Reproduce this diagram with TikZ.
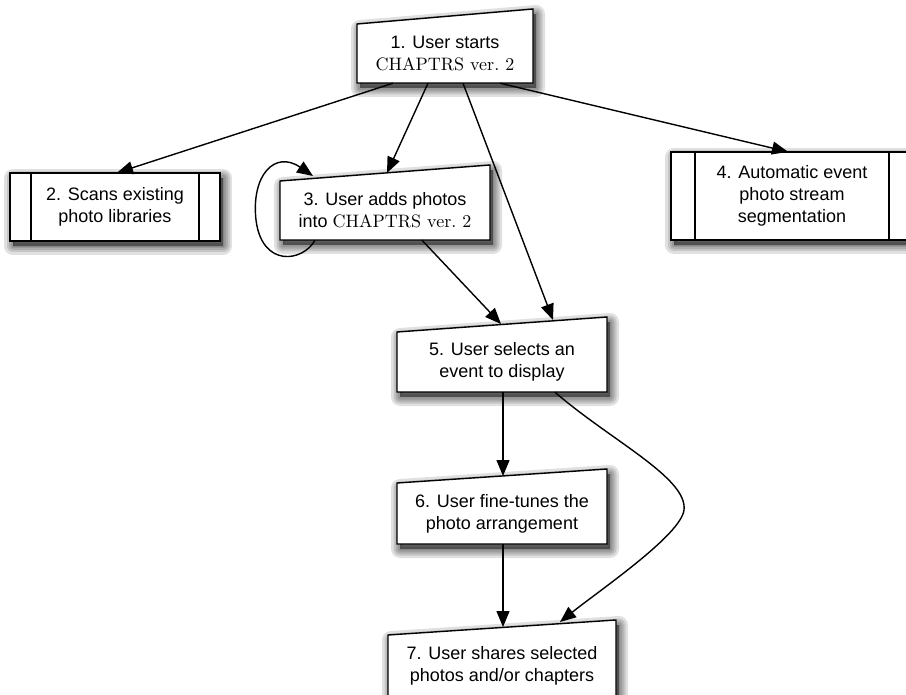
\documentclass[tikz,border=0pt]{standalone}
\usepackage{fontspec}
\setsansfont{Liberation Sans}
\newfontfamily\cmfont{lmroman10-regular.otf}
\usetikzlibrary{arrows.meta}

\begin{document}
\begin{tikzpicture}[x=1pt,y=-1pt,
  flowbox/.style={draw=black, line width=1.4pt, fill=white, line join=miter},
  sideline/.style={draw=black, line width=1.4pt},
  txt/.style={inner sep=0pt, align=center,
    font=\sffamily\fontsize{18}{22}\selectfont},
  link/.style={line width=1.4pt, -{Triangle[length=16pt,width=13pt]}}
]
\newcommand{\chaptrs}{{\cmfont\fontsize{18}{22}\selectfont CHAPTRS ver.~2}}
% soft drop shadow: stacked translucent copies of a path, shifted down-right
\newcommand{\softshadow}[1]{%
  \foreach \w in {18,13,9,5,0.1}{%
    \path[shift={(3,5)}, fill=black, draw=black, opacity=0.12,
          line width=\w pt, line join=round] #1;}}
\useasboundingbox (0,0) rectangle (906,695);

% ---- shadows ----
\softshadow{(357,83) -- (357,24) -- (533,9) -- (533,83) -- cycle}
\softshadow{(10,173) rectangle (220,241)}
\softshadow{(280,240) -- (280,181) -- (490,165) -- (490,240) -- cycle}
\softshadow{(671,152) rectangle (913,240)}
\softshadow{(397,392) -- (397,332) -- (607,317) -- (607,392) -- cycle}
\softshadow{(397,544) -- (397,483) -- (607,469) -- (607,544) -- cycle}
\softshadow{(388,699) -- (388,635) -- (616,620) -- (616,699) -- cycle}

% ---- box outlines (manual input and predefined process) ----
\path[flowbox] (357,83) -- (357,24) -- (533,9) -- (533,83) -- cycle;
\path[flowbox] (10,173) rectangle (220,241);
\draw[sideline] (31,173) -- (31,241) (199,173) -- (199,241);
\path[flowbox] (280,240) -- (280,181) -- (490,165) -- (490,240) -- cycle;
\path[flowbox] (671,152) rectangle (913,240);
\draw[sideline] (695,152) -- (695,240) (889,152) -- (889,240);
\path[flowbox] (397,392) -- (397,332) -- (607,317) -- (607,392) -- cycle;
\path[flowbox] (397,544) -- (397,483) -- (607,469) -- (607,544) -- cycle;
\path[flowbox] (388,699) -- (388,635) -- (616,620) -- (616,699) -- cycle;

% ---- labelled nodes (body of each box) ----
\node[txt, minimum width=176pt, minimum height=59pt] (n1) at (445,53.5)
  {1. User starts\\\chaptrs};
\node[txt, minimum width=210pt, minimum height=68pt] (n2) at (115,207)
  {2. Scans existing\\photo libraries};
\node[txt, minimum width=210pt, minimum height=59pt] (n3) at (385,210.5)
  {3. User adds photos\\into \chaptrs};
\node[txt, minimum width=242pt, minimum height=88pt] (n4) at (792,196)
  {4. Automatic event\\photo stream\\segmentation};
\node[txt, minimum width=210pt, minimum height=60pt] (n5) at (502,362)
  {5. User selects an\\event to display};
\node[txt, minimum width=210pt, minimum height=61pt] (n6) at (502,513.5)
  {6. User fine-tunes the\\photo arrangement};
\node[txt, minimum width=228pt, minimum height=61pt] (n7) at (502,666)
  {7. User shares selected\\photos and/or chapters};

% ---- entry points on the slanted top edges ----
\coordinate (n3-in) at (387,173);
\coordinate (n3-loop) at (313,176);
\coordinate (n5-inA) at (501,324);
\coordinate (n5-inB) at (553,320);
\coordinate (n6-in) at (503,476);
\coordinate (n7-inA) at (503,627);
\coordinate (n7-inB) at (560,622);

% ---- connectors ----
\draw[link] ([xshift=-52pt]n1.south) -- ([xshift=2pt]n2.north);
\draw[link] ([xshift=-17pt]n1.south) -- (n3-in);
\draw[link] ([xshift=18pt]n1.south) -- (n5-inB);
\draw[link] ([xshift=55pt]n1.south) -- ([xshift=-4pt]n4.north);
\draw[link] ([xshift=37pt]n3.south) -- (n5-inA);
\draw[link] ([xshift=-70pt]n3.south)
  .. controls (303,262) and (262,268) .. (256,220)
  .. controls (251,175) and (275,150) .. (n3-loop);
\draw[link] ([xshift=1pt]n5.south) -- (n6-in);
\draw[link] ([xshift=1pt]n6.south) -- (n7-inA);
\draw[link] ([xshift=53pt]n5.south)
  .. controls (610,440) and (688,478) .. (684,510)
  .. controls (681,535) and (600,590) .. (n7-inB);
\end{tikzpicture}
\end{document}
